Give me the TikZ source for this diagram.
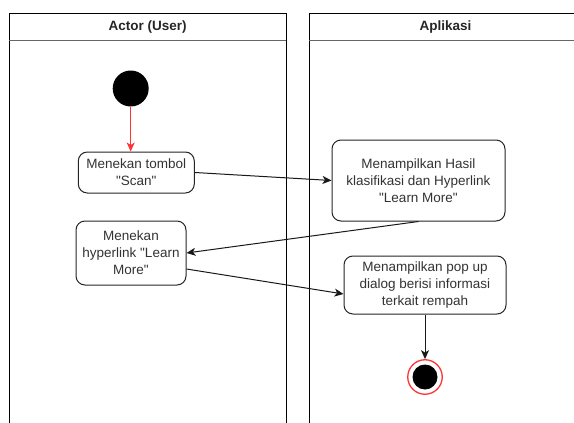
\documentclass[tikz,border=0pt]{standalone}
\usepackage{fontspec}
\setmainfont{Liberation Sans}[Ligatures=TeXOff]
\usetikzlibrary{arrows.meta}
\definecolor{txt}{HTML}{333333}
\definecolor{startred}{HTML}{FF3333}
\tikzset{
  px/.style={x=1pt,y=-1pt},
  lane/.style={draw=black,line width=1pt},
  lanehead/.style={font=\fontsize{13.5}{16}\selectfont\bfseries,text=black!85},
  action/.style={draw=black!85,line width=1pt,rounded corners=9pt,fill=white,
    align=center,inner sep=0pt,text=txt,font=\fontsize{13.5}{17}\selectfont},
  flow/.style={draw=black!90,line width=1pt,-{Stealth[length=9pt,width=8pt,inset=2.5pt]}},
  startflow/.style={draw=startred,line width=1pt,-{Stealth[length=9pt,width=8pt,inset=2.5pt]}},
}
\begin{document}
\begin{tikzpicture}[px]
\useasboundingbox (0,0) rectangle (574,423);
\clip (0,0) rectangle (574,423);
% swimlanes
\draw[lane] (9.3,440) -- (9.3,13.3) -- (286,13.3) -- (286,440);
\draw[lane,draw=black!60] (9.3,40.5) -- (286,40.5);
\node[lanehead] (laneA) at (147.7,27) {Actor (User)};
\draw[lane] (309.3,440) -- (309.3,13.3) -- (582,13.3) -- (582,440);
\draw[lane,draw=black!60] (309.3,40.5) -- (582,40.5);
\node[lanehead] (laneB) at (445.5,27) {Aplikasi};
% start and end states
\node[circle,fill=black,minimum size=36pt,inner sep=0pt] (start) at (130.7,88.5) {};
\node[circle,draw=startred,line width=1.3pt,fill=white,minimum size=34.5pt,inner sep=0pt] (end) at (425,377) {};
\node[circle,fill=black,minimum size=25pt,inner sep=0pt] (endcore) at (425,377) {};
% actions
\node[action,minimum width=116pt,minimum height=41pt] (b1) at (136.3,172.5) {Menekan tombol\\"Scan"};
\node[action,minimum width=110pt,minimum height=64pt] (b2) at (131,253) {Menekan\\hyperlink "Learn\\More"};
\node[action,minimum width=173pt,minimum height=81pt] (b3) at (418.5,180.5) {Menampilkan Hasil\\klasifikasi dan Hyperlink\\"Learn More"};
\node[action,minimum width=162pt,minimum height=58pt] (b4) at (425,285) {Menampilkan pop up\\dialog berisi informasi\\terkait rempah};
% control flow
\draw[startflow] (start.south) -- (start.south |- b1.north);
\draw[flow] (b1.east) -- (b3.west);
\draw[flow] (b3.south) -- (b2.east);
\draw[flow] ([yshift=-16pt]b2.east) -- ([yshift=-9pt]b4.west);
\draw[flow] (b4.south) -- (end.north);
\end{tikzpicture}
\end{document}
